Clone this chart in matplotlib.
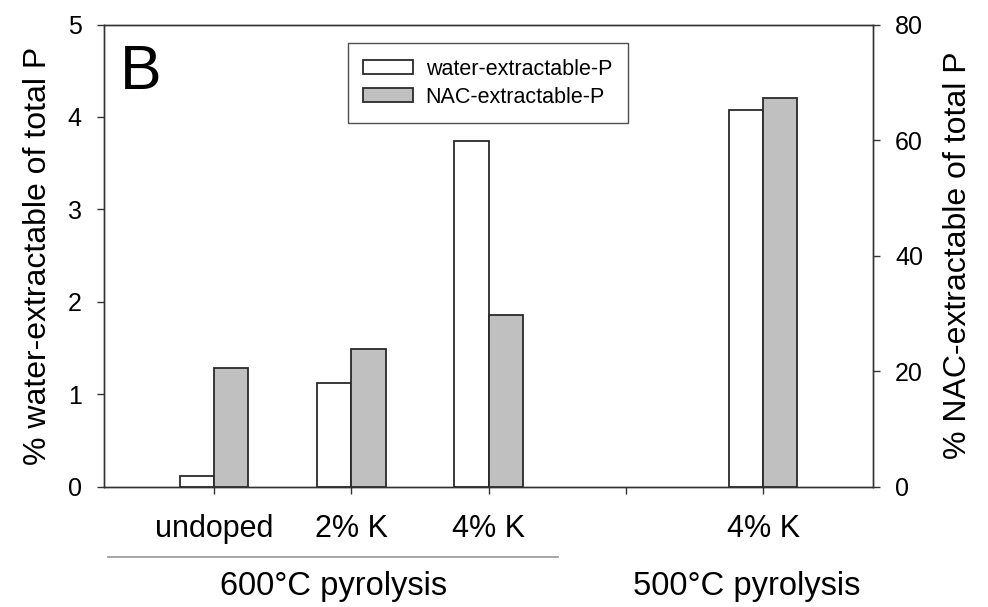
import numpy as np
import matplotlib
matplotlib.use("Agg")
import matplotlib.pyplot as plt
from matplotlib.lines import Line2D

plt.rcParams['font.family'] = ['Liberation Sans', 'DejaVu Sans']

# data
positions = [0, 1, 2, 4]                       # slot 3 stays empty (gap between groups)
tick_pos = [0, 1, 2, 3, 4]
tick_labels = ['undoped', '2% K', '4% K', '', '4% K']
water_p = [0.12, 1.12, 3.74, 4.08]             # left axis, %
nac_p = [20.5, 23.8, 29.7, 67.3]               # right axis, %
groups = ['600°C pyrolysis', '500°C pyrolysis']

bar_w = 0.25
edge = '#2a2a2a'
spine_c = '#333333'

fig = plt.figure(figsize=(9.88, 6.07), dpi=100)
ax = fig.add_axes([0.1053, 0.1982, 0.7783, 0.7614])
ax2 = ax.twinx()

x = np.array(positions)
b1 = ax.bar(x - bar_w / 2, water_p, bar_w, color='white', edgecolor=edge, linewidth=1.3,
            label='water-extractable-P')
b2 = ax2.bar(x + bar_w / 2, nac_p, bar_w, color='#c0c0c0', edgecolor=edge, linewidth=1.3,
             label='NAC-extractable-P')

ax.set_xlim(-0.8, 4.8)
ax.set_ylim(0, 5)
ax2.set_ylim(0, 80)
ax.set_yticks([0, 1, 2, 3, 4, 5])
ax2.set_yticks([0, 20, 40, 60, 80])
ax.set_xticks(tick_pos)
ax.set_xticklabels(tick_labels, fontsize=22)

for a in (ax, ax2):
    for s in a.spines.values():
        s.set_color(spine_c)
        s.set_linewidth(1.0)
ax.tick_params(axis='y', labelsize=18, length=5, width=1, color=spine_c, pad=11)
ax2.tick_params(axis='y', labelsize=18, length=5, width=1, color=spine_c, pad=11)
ax.tick_params(axis='x', length=5, width=1, color=spine_c, pad=15)

ax.set_ylabel('% water-extractable of total P', fontsize=23)
ax2.set_ylabel('% NAC-extractable of total P', fontsize=23)
ax.yaxis.set_label_coords(-0.067, 0.5)
ax2.yaxis.set_label_coords(1.091, 0.5)

# panel letter
ax.text(0.021, 0.896, 'B', transform=ax.transAxes, fontsize=45, ha='left', va='center')

# legend
leg = ax2.legend([b1, b2], ['water-extractable-P', 'NAC-extractable-P'],
                 loc='upper left', bbox_to_anchor=(0.317, 0.96), borderaxespad=0,
                 fontsize=15.5, frameon=True, fancybox=False, edgecolor='#222222',
                 handlelength=2.3, handleheight=0.6, handletextpad=0.6,
                 labelspacing=0.33, borderpad=0.72)
leg.get_frame().set_linewidth(1.0)

# group annotations below the x axis
ax.add_line(Line2D([0.005, 0.591], [-0.152, -0.152], transform=ax.transAxes,
                   color='#a0a0a0', linewidth=1.3, clip_on=False))
ax.text(0.298, -0.216, groups[0], transform=ax.transAxes, fontsize=23.5,
        ha='center', va='center')
ax.text(0.836, -0.216, groups[1], transform=ax.transAxes, fontsize=23.5,
        ha='center', va='center')

fig.savefig('out.png', dpi=100, facecolor='white')
